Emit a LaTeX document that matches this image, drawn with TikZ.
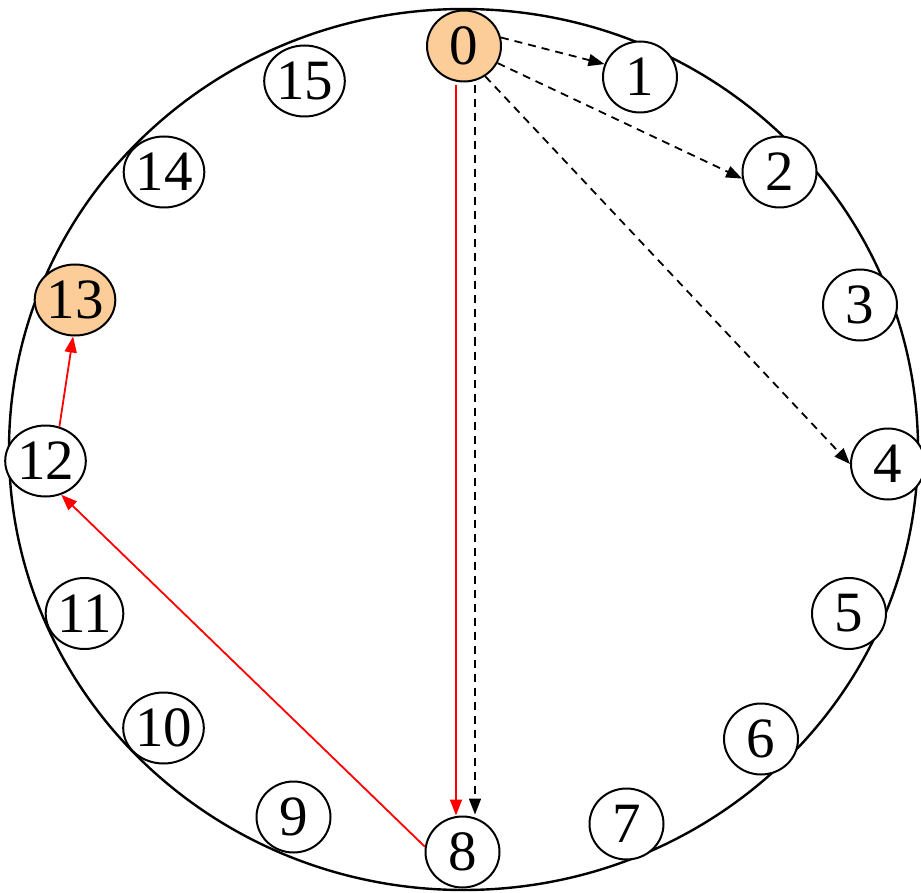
\documentclass[tikz,border=0pt]{standalone}
\usepackage{fontspec}
\setmainfont{Liberation Serif}
\usetikzlibrary{shapes.geometric,arrows.meta}
\definecolor{nodeorange}{HTML}{FCCC99}
\tikzset{
  ring/.style={ellipse,draw=black,fill=white,line width=2pt,minimum width=74pt,minimum height=71pt,inner sep=0pt,
    font=\fontsize{57}{57}\selectfont},
  hot/.style={ring,fill=nodeorange},
  redarrow/.style={draw=red,line width=1.8pt,-{Triangle[length=16pt,width=12pt]}},
  dasharrow/.style={draw=black,line width=1.8pt,dash pattern=on 8pt off 6pt,-{Triangle[length=16pt,width=12pt]}}
}
\begin{document}
\begin{tikzpicture}[x=1pt,y=-1pt]
\useasboundingbox (0,0) rectangle (921,893);
\draw[line width=2.4pt] (463.5,449.5) ellipse [x radius=454.5, y radius=440.5];
\node[hot]  (n0)  at (464,46) {0};
\node[ring] (n1)  at (640,77) {1};
\node[ring] (n2)  at (779.5,172) {2};
\node[ring] (n3)  at (860,305) {3};
\node[ring] (n4)  at (888,464) {4};
\node[ring] (n5)  at (849,613.5) {5};
\node[ring] (n6)  at (761,739) {6};
\node[ring] (n7)  at (626.5,824) {7};
\node[ring] (n8)  at (462.5,852) {8};
\node[ring] (n9)  at (293.5,817) {9};
\node[ring] (n10) at (163.5,728) {10};
\node[ring] (n11) at (84.5,613.5) {11};
\node[ring] (n12) at (45.5,461) {12};
\node[hot]  (n13) at (75,300) {13};
\node[ring] (n14) at (164,172) {14};
\node[ring] (n15) at (304.5,81) {15};
% dashed finger arrows
\draw[dasharrow] (n0.13) -- (n1.160);
\draw[dasharrow] (n0.-27) -- (n2.-170);
\draw[dasharrow] (n0.-55) -- (n4.180);
\draw[dasharrow] ([xshift=11pt,yshift=-3pt]n0.south) -- ([xshift=12.5pt,yshift=1pt]n8.north);
% red route
\draw[redarrow] ([xshift=-8pt,yshift=-3pt]n0.south) -- ([xshift=-6.5pt,yshift=0pt]n8.north);
\draw[redarrow] (n8.172) -- (n12.-65);
\draw[redarrow] (n12.68) -- (n13.-93);
\end{tikzpicture}
\end{document}
